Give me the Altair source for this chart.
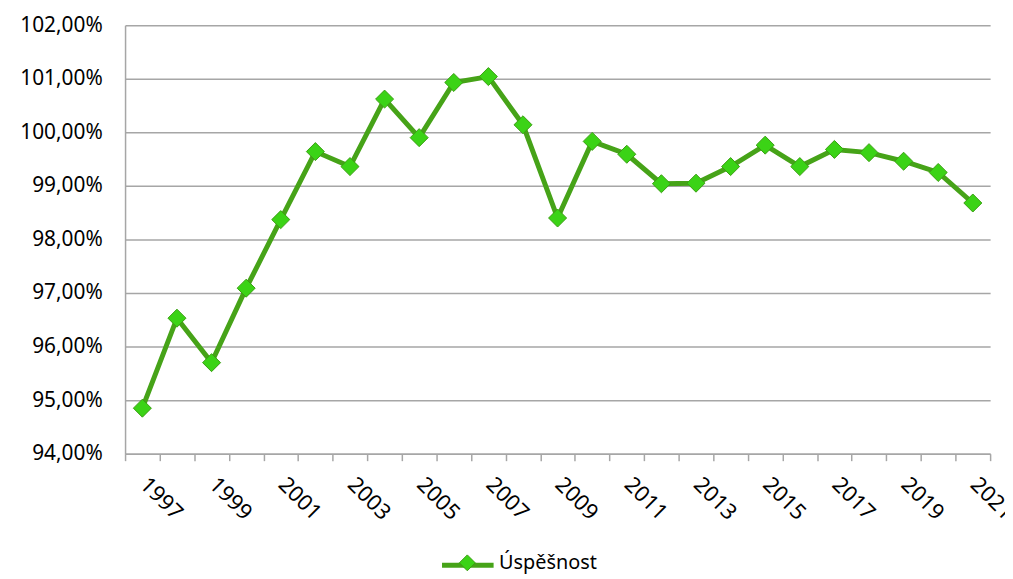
import altair as alt
import pandas as pd

years = list(range(1997, 2022))
values = [94.85, 96.53, 95.70, 97.09, 98.37, 99.64, 99.36, 100.62, 99.90, 100.93,
          101.04, 100.14, 98.40, 99.83, 99.59, 99.04, 99.05, 99.36, 99.76, 99.36,
          99.68, 99.62, 99.46, 99.25, 98.68]
series_name = "Úspěšnost"
y_ticks = [94, 95, 96, 97, 98, 99, 100, 101, 102]

df = pd.DataFrame({"year": years, "value": values,
                   "s_line": [series_name] * len(years),
                   "s_point": [series_name] * len(years)})

FONT = "Noto Sans"
LINE_C = "#46a318"
FILL_C = "#3bd316"
EDGE_C = "#3a9e12"
GRID_C = "#a6a6a6"

x_enc = alt.X("year:O",
              scale=alt.Scale(paddingInner=0, paddingOuter=0),
              axis=alt.Axis(title=None, labelAngle=45, labelAlign="left",
                            labelBaseline="top", labelPadding=13, labelOffset=8,
                            labelExpr="datum.value % 2 == 1 ? datum.value : ''",
                            labelFont=FONT, labelFontSize=22, labelColor="#000000",
                            tickBand="extent", tickSize=7, tickColor=GRID_C, tickWidth=1.5,
                            domainColor=GRID_C, domainWidth=1.5, grid=False,
                            labelOverlap=False))
y_enc = alt.Y("value:Q",
              scale=alt.Scale(domain=[94, 102], nice=False, zero=False),
              axis=alt.Axis(title=None, values=y_ticks,
                            labelExpr="replace(format(datum.value, '.2f'), '.', ',') + '%'",
                            labelFont=FONT, labelFontSize=21, labelColor="#000000",
                            labelPadding=23, ticks=False,
                            domainColor=GRID_C, domainWidth=1.5,
                            grid=True, gridColor=GRID_C, gridWidth=1.5))

line = alt.Chart(df).mark_line(strokeWidth=5).encode(
    x=x_enc, y=y_enc,
    stroke=alt.Stroke("s_line:N", scale=alt.Scale(range=[LINE_C]),
                      legend=alt.Legend(title=None, orient="none", legendX=317, legendY=516,
                                        symbolType="stroke", symbolSize=2704,
                                        symbolStrokeWidth=5, symbolStrokeColor=LINE_C,
                                        padding=0, labelExpr="''",
                                        labelFontSize=1, labelFont=FONT,
                                        labelOpacity=0))
)

points = alt.Chart(df).mark_point(filled=True, shape="diamond", size=330,
                                  stroke=EDGE_C, strokeWidth=1, opacity=1).encode(
    x=x_enc, y=y_enc,
    fill=alt.Fill("s_point:N", scale=alt.Scale(range=[FILL_C]),
                  legend=alt.Legend(title=None, orient="none", legendX=335, legendY=532,
                                    symbolType="diamond", symbolSize=256,
                                    symbolStrokeColor=EDGE_C, symbolStrokeWidth=1,
                                    padding=0, labelOffset=22,
                                    labelFont=FONT, labelFontSize=20, labelColor="#000000"))
)

chart = alt.layer(line, points).resolve_legend(
    stroke="independent", fill="independent"
).properties(
    width=872, height=432,
    autosize=alt.AutoSizeParams(type="none"),
    padding={"left": 118, "top": 15, "right": 15, "bottom": 124}
).configure_view(stroke=None)

chart.save("out.html", embed_options={"renderer": "svg", "actions": False})
